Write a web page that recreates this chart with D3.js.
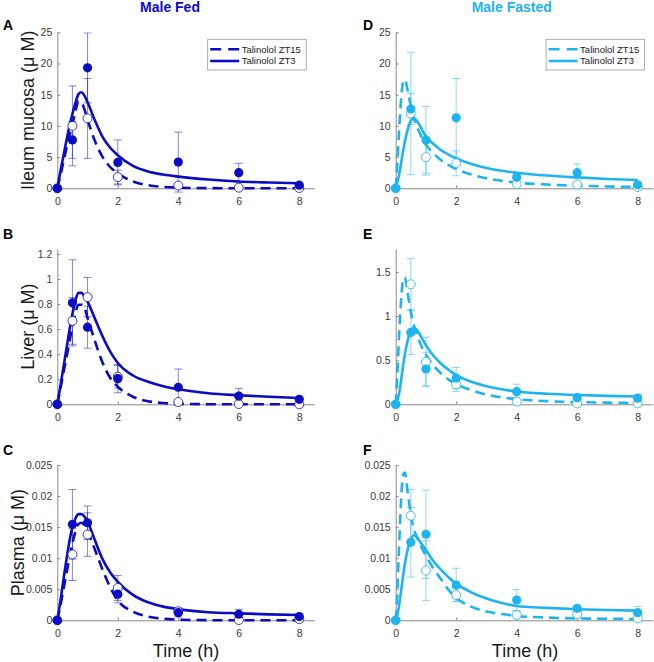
<!DOCTYPE html>
<html><head><meta charset="utf-8">
<script src="https://cdn.jsdelivr.net/npm/d3@7"></script>
<style>
body{margin:0;background:#fff}
svg{display:block}
text{font-family:"Liberation Sans",Arial,Helvetica,sans-serif}
</style>
</head><body>
<svg id="chart" width="654" height="662"></svg>
<script>
// ---------- DATA ----------
const sampleTimes = [0, 0.5, 1, 2, 4, 6, 8];
const curveTimes = [0, 0.05, 0.1, 0.15, 0.2, 0.25, 0.3, 0.4, 0.5, 0.6, 0.7, 0.8, 0.9, 1, 1.25, 1.5, 1.75, 2, 2.5, 3, 3.5, 4, 5, 6, 7, 8];
const timeTicks = [0, 2, 4, 6, 8];
const ileumTicks = [0, 5, 10, 15, 20, 25];
const liverFedTicks = [0, 0.2, 0.4, 0.6, 0.8, 1, 1.2];
const liverFastedTicks = [0, 0.5, 1, 1.5];
const plasmaTicks = [0, 0.005, 0.01, 0.015, 0.02, 0.025];
const seriesNames = ["Talinolol ZT15", "Talinolol ZT3"];

// Male Fed - Ileum mucosa
const ileumFedZT3 = [0, 7.75, 19.3, 4.15, 4.2, 2.5, 0.5];
const ileumFedZT3Err = [0, 2.95, 5.6, 3.6, 4.8, 1.5, 0.2];
const ileumFedZT15 = [0, 10.0, 11.2, 1.8, 0.45, 0.1, 0.05];
const ileumFedZT15Err = [0, 6.4, 6.4, 1.1, 0.3, 0.1, 0.05];
const ileumFedZT3Fit = [0, 1.3, 2.6, 3.9, 5.1, 6.4, 7.6, 9.9, 11.9, 13.7, 15.1, 15.4, 14.8, 13.8, 10.8, 8.2, 6.5, 5.3, 3.6, 2.7, 2.2, 1.87, 1.4, 1.1, 0.93, 0.8];
const ileumFedZT15Fit = [0, 1.0, 2.0, 3.1, 4.2, 5.3, 6.4, 8.4, 10.3, 12.3, 14.0, 13.8, 12.6, 11.0, 7.5, 5.0, 3.4, 2.4, 1.1, 0.5, 0.22, 0.1, 0.03, 0.01, 0.01, 0];

// Male Fasted - Ileum mucosa
const ileumFastedZT3 = [0, 12.7, 7.75, 11.3, 1.76, 2.5, 0.55];
const ileumFastedZT3Err = [0, 2.5, 5.35, 6.3, 0.3, 1.4, 0.3];
const ileumFastedZT15 = [0, 12.0, 5.0, 4.0, 0.7, 0.6, 0.2];
const ileumFastedZT15Err = [0, 9.8, 2.9, 2.0, 0.3, 0.3, 0.2];
const ileumFastedZT3Fit = [0, 0.9, 1.9, 3.2, 4.7, 6.1, 7.4, 9.5, 10.8, 11.2, 10.8, 10.0, 9.1, 8.3, 7.1, 6.1, 5.4, 4.8, 3.9, 3.25, 2.8, 2.5, 2.05, 1.75, 1.5, 1.33];
const ileumFastedZT15Fit = [0, 3.8, 8.2, 12.3, 15.5, 17.2, 17.4, 15.6, 13.2, 11.3, 9.9, 8.8, 7.8, 7.0, 5.6, 4.5, 3.7, 3.1, 2.2, 1.6, 1.2, 0.9, 0.6, 0.42, 0.3, 0.2];

// Male Fed - Liver
const liverFedZT3 = [0, 0.81, 0.616, 0.205, 0.136, 0.066, 0.04];
const liverFedZT3Err = [0, 0.344, 0.168, 0.113, 0.145, 0.062, 0.01];
const liverFedZT15 = [0, 0.666, 0.856, 0.22, 0.018, 0.002, 0.0];
const liverFedZT15Err = [0, 0.187, 0.157, 0.09, 0.01, 0.003, 0.002];
const liverFedZT3Fit = [0, 0.07, 0.14, 0.215, 0.29, 0.365, 0.44, 0.59, 0.72, 0.83, 0.89, 0.89, 0.86, 0.82, 0.68, 0.54, 0.42, 0.33, 0.23, 0.18, 0.145, 0.12, 0.088, 0.072, 0.06, 0.05];
const liverFedZT15Fit = [0, 0.06, 0.12, 0.185, 0.25, 0.31, 0.37, 0.5, 0.62, 0.73, 0.795, 0.795, 0.77, 0.69, 0.5, 0.33, 0.21, 0.14, 0.06, 0.025, 0.01, 0.004, 0.001, 0, 0, 0];

// Male Fasted - Liver
const liverFastedZT3 = [0, 0.814, 0.40, 0.297, 0.143, 0.075, 0.07];
const liverFastedZT3Err = [0, 0.25, 0.19, 0.12, 0.085, 0.02, 0.04];
const liverFastedZT15 = [0, 1.36, 0.48, 0.226, 0.03, 0.01, 0.01];
const liverFastedZT15Err = [0, 0.29, 0.28, 0.08, 0.02, 0.01, 0.01];
const liverFastedZT3Fit = [0, 0.04, 0.1, 0.2, 0.33, 0.45, 0.56, 0.73, 0.83, 0.87, 0.84, 0.79, 0.73, 0.67, 0.55, 0.46, 0.39, 0.33, 0.255, 0.205, 0.17, 0.145, 0.12, 0.105, 0.095, 0.088];
const liverFastedZT15Fit = [0, 0.3, 0.7, 1.03, 1.28, 1.42, 1.44, 1.25, 1.05, 0.9, 0.79, 0.7, 0.62, 0.56, 0.44, 0.35, 0.28, 0.23, 0.16, 0.11, 0.08, 0.058, 0.036, 0.025, 0.019, 0.015];

// Male Fed - Plasma
const plasmaFedZT3 = [0, 0.01545, 0.0157, 0.0042, 0.00123, 0.00097, 0.0006];
const plasmaFedZT3Err = [0, 0.0056, 0.0027, 0.0014, 0.0007, 0.0008, 0.0003];
const plasmaFedZT15 = [0, 0.0106, 0.0138, 0.0052, 0.00145, 0.00005, 0.0002];
const plasmaFedZT15Err = [0, 0.0042, 0.0035, 0.002, 0.0005, 0.0001, 0.0002];
const plasmaFedZT3Fit = [0, 0.0015, 0.003, 0.0047, 0.0064, 0.0081, 0.0097, 0.0127, 0.015, 0.0164, 0.0171, 0.0171, 0.0167, 0.0159, 0.0128, 0.0098, 0.0077, 0.0062, 0.0041, 0.0029, 0.0022, 0.0018, 0.0013, 0.00112, 0.00096, 0.00085];
const plasmaFedZT15Fit = [0, 0.0011, 0.0023, 0.0036, 0.0049, 0.0062, 0.0075, 0.01, 0.0124, 0.0143, 0.0155, 0.0157, 0.0153, 0.0144, 0.0113, 0.0081, 0.0053, 0.0032, 0.0014, 0.0006, 0.00025, 0.0001, 0.00002, 0, 0, 0];

// Male Fasted - Plasma
const plasmaFastedZT3 = [0, 0.01255, 0.01384, 0.00568, 0.00327, 0.00193, 0.00123];
const plasmaFastedZT3Err = [0, 0.0056, 0.0071, 0.0027, 0.0017, 0.0003, 0.001];
const plasmaFastedZT15 = [0, 0.01684, 0.008, 0.00407, 0.00086, 0.00097, 0.0003];
const plasmaFastedZT15Err = [0, 0.0042, 0.0048, 0.001, 0.0006, 0.0004, 0.0002];
const plasmaFastedZT3Fit = [0, 0.0008, 0.002, 0.0037, 0.0055, 0.0073, 0.009, 0.0115, 0.013, 0.0137, 0.0134, 0.0127, 0.012, 0.0113, 0.0095, 0.0081, 0.0069, 0.0059, 0.0045, 0.0035, 0.0028, 0.0023, 0.002, 0.00178, 0.00165, 0.00156];
const plasmaFastedZT15Fit = [0, 0.004, 0.0105, 0.0165, 0.0212, 0.0235, 0.0238, 0.0205, 0.017, 0.0147, 0.0134, 0.0123, 0.0113, 0.0104, 0.0083, 0.0066, 0.0049, 0.0036, 0.0022, 0.0014, 0.001, 0.0007, 0.00045, 0.0003, 0.00025, 0.0002];

// ---------- LAYOUT ----------
const colFed = "#0c0cc4", colFasted = "#1eb4f0";
const font = "'Liberation Sans', Arial, Helvetica, sans-serif";
const svg = d3.select("#chart");

const columns = [
  {x0: 57.3, color: colFed, title: "Male Fed", titleX: 170},
  {x0: 395.7, color: colFasted, title: "Male Fasted", titleX: 511.7}
];
const rowsLayout = [
  {bottom: 188.3, top: 32.3, label: "Ileum mucosa (\u03bc M)", labelX: 34, letterY: 30},
  {bottom: 404.3, top: 249, label: "Liver (\u03bc M)", labelX: 34, letterY: 239},
  {bottom: 620.3, top: 465, label: "Plasma (\u03bc M)", labelX: 24, letterY: 455}
];
const plotW = 257.1;

const panels = [
  {letter: "A", col: 0, row: 0, yMax: 25, ticks: ileumTicks, zt3: ileumFedZT3, zt3e: ileumFedZT3Err, zt15: ileumFedZT15, zt15e: ileumFedZT15Err, fit3: ileumFedZT3Fit, fit15: ileumFedZT15Fit, legend: true},
  {letter: "B", col: 0, row: 1, yMax: 1.24, ticks: liverFedTicks, zt3: liverFedZT3, zt3e: liverFedZT3Err, zt15: liverFedZT15, zt15e: liverFedZT15Err, fit3: liverFedZT3Fit, fit15: liverFedZT15Fit},
  {letter: "C", col: 0, row: 2, yMax: 0.025, ticks: plasmaTicks, zt3: plasmaFedZT3, zt3e: plasmaFedZT3Err, zt15: plasmaFedZT15, zt15e: plasmaFedZT15Err, fit3: plasmaFedZT3Fit, fit15: plasmaFedZT15Fit, xlabel: true},
  {letter: "D", col: 1, row: 0, yMax: 25, ticks: ileumTicks, zt3: ileumFastedZT3, zt3e: ileumFastedZT3Err, zt15: ileumFastedZT15, zt15e: ileumFastedZT15Err, fit3: ileumFastedZT3Fit, fit15: ileumFastedZT15Fit, legend: true},
  {letter: "E", col: 1, row: 1, yMax: 1.76, ticks: liverFastedTicks, zt3: liverFastedZT3, zt3e: liverFastedZT3Err, zt15: liverFastedZT15, zt15e: liverFastedZT15Err, fit3: liverFastedZT3Fit, fit15: liverFastedZT15Fit},
  {letter: "F", col: 1, row: 2, yMax: 0.025, ticks: plasmaTicks, zt3: plasmaFastedZT3, zt3e: plasmaFastedZT3Err, zt15: plasmaFastedZT15, zt15e: plasmaFastedZT15Err, fit3: plasmaFastedZT3Fit, fit15: plasmaFastedZT15Fit, xlabel: true}
];

const fmt = d => String(+(+d).toPrecision(6));

// Titles
columns.forEach(c => {
  svg.append("text").attr("x", c.titleX).attr("y", 12).attr("text-anchor", "middle")
    .style("font-size", "14px").style("font-weight", "bold").attr("fill", c.color).text(c.title);
});

panels.forEach((p, i) => {
  const c = columns[p.col], r = rowsLayout[p.row];
  const x = d3.scaleLinear().domain([0, 8.5]).range([c.x0, c.x0 + plotW]);
  const y = d3.scaleLinear().domain([0, p.yMax]).range([r.bottom, r.top]);
  const g = svg.append("g");

  const clipId = "clip" + i;
  svg.append("clipPath").attr("id", clipId).append("rect")
    .attr("x", c.x0 - 6).attr("y", r.top).attr("width", plotW + 12).attr("height", r.bottom - r.top + 6);

  // Axes
  const xAxis = d3.axisBottom(x).tickValues(timeTicks).tickFormat(fmt).tickSizeInner(-3).tickSizeOuter(0).tickPadding(9);
  const yAxis = d3.axisLeft(y).tickValues(p.ticks).tickFormat(fmt).tickSizeInner(-3).tickSizeOuter(0).tickPadding(5);
  const gx = g.append("g").attr("transform", `translate(0,${r.bottom})`).call(xAxis);
  const gy = g.append("g").attr("transform", `translate(${c.x0},0)`).call(yAxis);
  [gx, gy].forEach(ax => {
    ax.select(".domain").attr("stroke", "#8a8a8a").attr("stroke-width", 1);
    ax.selectAll(".tick line").attr("stroke", "#8a8a8a");
    ax.selectAll(".tick text").attr("fill", "#3a3a3a").style("font-size", "10.5px").style("font-family", font);
  });

  const plot = g.append("g").attr("clip-path", `url(#${clipId})`);

  // Error bars
  const drawErr = (vals, errs) => {
    const eg = plot.append("g").attr("stroke", c.color).attr("stroke-opacity", 0.5).attr("stroke-width", 1).attr("fill", "none");
    sampleTimes.forEach((t, k) => {
      if (errs[k] <= 0) return;
      const xp = x(t), y1 = y(vals[k] - errs[k]), y2 = y(vals[k] + errs[k]);
      eg.append("line").attr("x1", xp).attr("x2", xp).attr("y1", y1).attr("y2", y2);
      eg.append("line").attr("x1", xp - 4).attr("x2", xp + 4).attr("y1", y1).attr("y2", y1);
      eg.append("line").attr("x1", xp - 4).attr("x2", xp + 4).attr("y1", y2).attr("y2", y2);
    });
  };
  drawErr(p.zt15, p.zt15e);
  drawErr(p.zt3, p.zt3e);

  // Fit curves
  const line = d3.line().x((d, k) => x(curveTimes[k])).y(d => y(d)).curve(d3.curveMonotoneX);
  plot.append("path").datum(p.fit15).attr("d", line).attr("fill", "none").attr("stroke", c.color)
    .attr("stroke-width", 2.6).attr("stroke-dasharray", "10,6");
  plot.append("path").datum(p.fit3).attr("d", line).attr("fill", "none").attr("stroke", c.color)
    .attr("stroke-width", 2.6);

  // Markers
  g.append("g").selectAll("circle").data(p.zt15).join("circle")
    .attr("cx", (d, k) => x(sampleTimes[k])).attr("cy", d => y(d)).attr("r", 4.5)
    .attr("fill", "#fff").attr("stroke", c.color).attr("stroke-width", 0.8);
  g.append("g").selectAll("circle").data(p.zt3).join("circle")
    .attr("cx", (d, k) => x(sampleTimes[k])).attr("cy", d => y(d)).attr("r", 4.6)
    .attr("fill", c.color);

  // Panel letter
  svg.append("text").attr("x", p.col === 0 ? 3 : 363).attr("y", r.letterY)
    .style("font-size", "14px").style("font-weight", "bold").attr("fill", "#000").text(p.letter);

  // Y label (left column only)
  if (p.col === 0) {
    svg.append("text").attr("transform", `translate(${r.labelX},${(r.top + r.bottom) / 2}) rotate(-90)`)
      .attr("text-anchor", "middle").style("font-size", "18px").attr("fill", "#1a1a1a").text(r.label);
  }
  if (p.xlabel) {
    svg.append("text").attr("x", p.col === 0 ? 186 : 525).attr("y", 657).attr("text-anchor", "middle")
      .style("font-size", "18px").attr("fill", "#1a1a1a").text("Time (h)");
  }

  // Legend
  if (p.legend) {
    const lx = c.x0 + 150.4, ly = 39.3;
    const lg = svg.append("g");
    lg.append("rect").attr("x", lx).attr("y", ly).attr("width", 98.5).attr("height", 30.7)
      .attr("fill", "#fff").attr("stroke", "#9a9a9a").attr("stroke-width", 0.8);
    seriesNames.forEach((name, k) => {
      const yy = ly + 10 + k * 11.7;
      lg.append("line").attr("x1", lx + 2.5).attr("x2", lx + 31.5).attr("y1", yy).attr("y2", yy)
        .attr("stroke", c.color).attr("stroke-width", 2.6).attr("stroke-dasharray", k === 0 ? "11,7" : null);
      lg.append("text").attr("x", lx + 34).attr("y", yy + 3.4).style("font-size", "9.5px")
        .attr("fill", "#1a1a1a").text(name);
    });
  }
});
</script>
</body></html>
